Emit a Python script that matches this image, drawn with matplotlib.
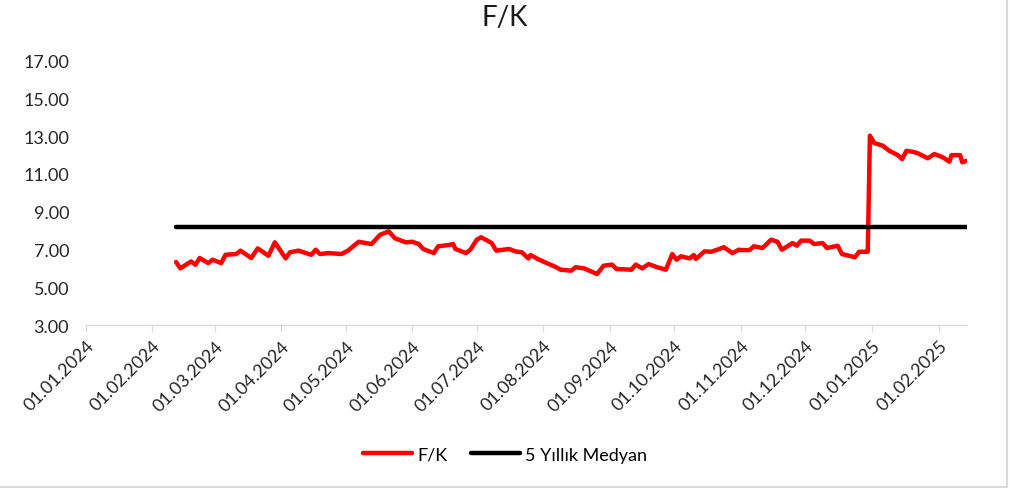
import matplotlib
matplotlib.use('Agg')
import matplotlib.pyplot as plt
import matplotlib.dates as mdates
from matplotlib.lines import Line2D
import numpy as np

plt.rcParams['font.family'] = ['Lato', 'DejaVu Sans']

# F/K series
dates = ['2024-02-12', '2024-02-14', '2024-02-19', '2024-02-21', '2024-02-23', '2024-02-27',
         '2024-02-29', '2024-03-04', '2024-03-06', '2024-03-11', '2024-03-13', '2024-03-18',
         '2024-03-21', '2024-03-26', '2024-03-29', '2024-04-03', '2024-04-05', '2024-04-09',
         '2024-04-15', '2024-04-17', '2024-04-19', '2024-04-23', '2024-04-29', '2024-05-02',
         '2024-05-07', '2024-05-13', '2024-05-17', '2024-05-21', '2024-05-24', '2024-05-29',
         '2024-06-01', '2024-06-04', '2024-06-06', '2024-06-11', '2024-06-13', '2024-06-18',
         '2024-06-20', '2024-06-21', '2024-06-26', '2024-06-28', '2024-07-01', '2024-07-03',
         '2024-07-08', '2024-07-10', '2024-07-16', '2024-07-19', '2024-07-22', '2024-07-25',
         '2024-07-26', '2024-07-30', '2024-08-07', '2024-08-09', '2024-08-14', '2024-08-16',
         '2024-08-20', '2024-08-26', '2024-08-29', '2024-09-02', '2024-09-04', '2024-09-11',
         '2024-09-13', '2024-09-16', '2024-09-19', '2024-09-23', '2024-09-27', '2024-09-30',
         '2024-10-02', '2024-10-04', '2024-10-08', '2024-10-10', '2024-10-11', '2024-10-15',
         '2024-10-18', '2024-10-21', '2024-10-24', '2024-10-28', '2024-10-31', '2024-11-01',
         '2024-11-05', '2024-11-07', '2024-11-11', '2024-11-15', '2024-11-18', '2024-11-20',
         '2024-11-25', '2024-11-27', '2024-11-29', '2024-12-03', '2024-12-05', '2024-12-09',
         '2024-12-11', '2024-12-16', '2024-12-18', '2024-12-24', '2024-12-26', '2024-12-30',
         '2024-12-31', '2025-01-02', '2025-01-06', '2025-01-09', '2025-01-13', '2025-01-15',
         '2025-01-17', '2025-01-21', '2025-01-23', '2025-01-27', '2025-01-30', '2025-02-03',
         '2025-02-06', '2025-02-07', '2025-02-11', '2025-02-12', '2025-02-14']
fk = [6.34, 6.00, 6.37, 6.19, 6.55, 6.28,
      6.46, 6.28, 6.72, 6.76, 6.94, 6.55,
      7.06, 6.67, 7.38, 6.53, 6.85, 6.94,
      6.72, 6.99, 6.76, 6.81, 6.76, 6.94,
      7.41, 7.29, 7.78, 7.96, 7.59, 7.38,
      7.41, 7.29, 7.03, 6.81, 7.17, 7.24,
      7.29, 7.03, 6.81, 6.99, 7.52, 7.65,
      7.34, 6.94, 7.03, 6.90, 6.85, 6.53,
      6.71, 6.46, 6.06, 5.93, 5.88, 6.06,
      6.00, 5.70, 6.14, 6.20, 5.97, 5.93,
      6.20, 6.00, 6.23, 6.06, 5.93, 6.76,
      6.46, 6.64, 6.53, 6.71, 6.50, 6.90,
      6.88, 6.99, 7.12, 6.81, 6.99, 6.97,
      6.97, 7.17, 7.08, 7.52, 7.41, 6.99,
      7.34, 7.20, 7.47, 7.47, 7.29, 7.34,
      7.08, 7.20, 6.76, 6.59, 6.88, 6.88,
      13.03, 12.64, 12.50, 12.23, 12.00, 11.79,
      12.23, 12.15, 12.06, 11.83, 12.06, 11.88,
      11.65, 12.00, 12.00, 11.62, 11.70]
median_5y = 8.20

yticks = [3, 5, 7, 9, 11, 13, 15, 17]
x_start = '2024-01-01'
x_end = '2025-02-14'

d = np.array(dates, dtype='datetime64[D]')

fig = plt.figure(figsize=(10.1, 4.89), dpi=100)
ax = fig.add_axes([0.085, 0.3333, 0.872, 0.5405])

ax.plot(d, fk, color='#ff0000', lw=3.2, solid_capstyle='round', solid_joinstyle='round')
ax.plot(d, [median_5y] * len(d), color='black', lw=3.2, solid_capstyle='round')

ax.set_xlim(np.datetime64(x_start), np.datetime64(x_end))
ax.set_ylim(3, 17)
ax.set_yticks(yticks)
ax.set_yticklabels(['%.2f' % v for v in yticks])

ax.xaxis.set_major_locator(mdates.MonthLocator())
ax.xaxis.set_major_formatter(mdates.DateFormatter('%d.%m.%Y'))
plt.setp(ax.get_xticklabels(), rotation=45, ha='right', rotation_mode='anchor')

for s in ['top', 'right', 'left']:
    ax.spines[s].set_visible(False)
ax.spines['bottom'].set_color('#d9d9d9')
ax.spines['bottom'].set_linewidth(1)
ax.tick_params(axis='y', length=0, labelsize=13, pad=12, colors='#262626')
ax.tick_params(axis='x', length=5, color='#d9d9d9', labelsize=13, pad=4, labelcolor='#262626')

fig.suptitle('F/K', fontsize=20, y=0.99, color='#1a1a1a')

handles = [Line2D([], [], color='#ff0000', lw=3.2, solid_capstyle='round'),
           Line2D([], [], color='black', lw=3.2, solid_capstyle='round')]
fig.legend(handles, ['F/K', '5 Yıllık Medyan'], loc='center', bbox_to_anchor=(0.5, 0.068),
           ncol=2, frameon=False, fontsize=13, handlelength=2.7, handletextpad=0.3,
           columnspacing=1.3)

# light chart border (right and bottom)
fig.add_artist(Line2D([0.997, 0.997], [0.003, 1], transform=fig.transFigure, color='#d9d9d9', lw=1.5))
fig.add_artist(Line2D([0, 0.997], [0.003, 0.003], transform=fig.transFigure, color='#d9d9d9', lw=1.5))

fig.savefig('out.png', dpi=100)
